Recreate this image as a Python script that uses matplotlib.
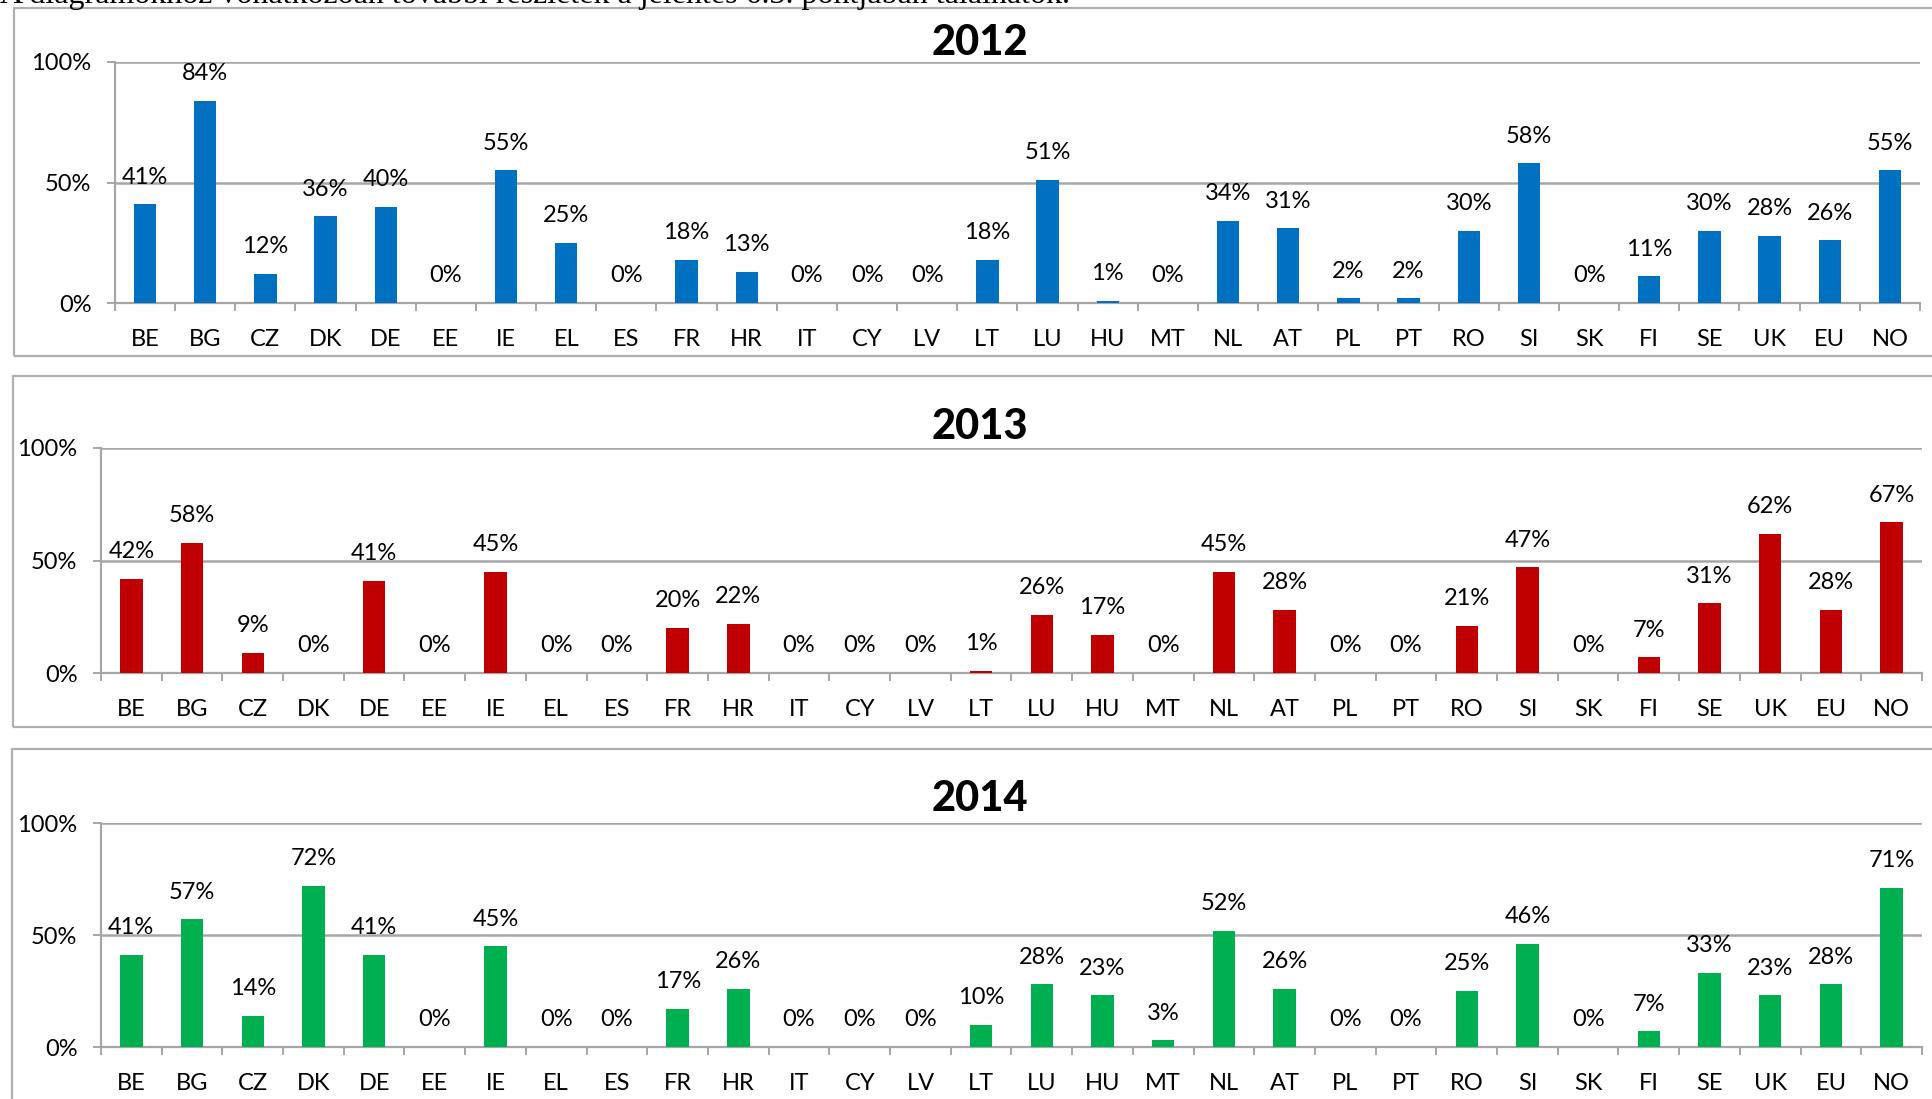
import matplotlib
matplotlib.use('Agg')
import matplotlib.pyplot as plt
from matplotlib.patches import Rectangle
from matplotlib.ticker import FixedLocator, PercentFormatter

countries = ['BE', 'BG', 'CZ', 'DK', 'DE', 'EE', 'IE', 'EL', 'ES', 'FR', 'HR', 'IT', 'CY', 'LV', 'LT',
             'LU', 'HU', 'MT', 'NL', 'AT', 'PL', 'PT', 'RO', 'SI', 'SK', 'FI', 'SE', 'UK', 'EU', 'NO']

values_2012 = [41, 84, 12, 36, 40, 0, 55, 25, 0, 18, 13, 0, 0, 0, 18,
               51, 1, 0, 34, 31, 2, 2, 30, 58, 0, 11, 30, 28, 26, 55]
values_2013 = [42, 58, 9, 0, 41, 0, 45, 0, 0, 20, 22, 0, 0, 0, 1,
               26, 17, 0, 45, 28, 0, 0, 21, 47, 0, 7, 31, 62, 28, 67]
values_2014 = [41, 57, 14, 72, 41, 0, 45, 0, 0, 17, 26, 0, 0, 0, 10,
               28, 23, 3, 52, 26, 0, 0, 25, 46, 0, 7, 33, 23, 28, 71]

years = ['2012', '2013', '2014']
note = 'A diagramokhoz vonatkozóan további részletek a jelentés 6.3. pontjában találhatók.'

W, H = 1933, 1099
GRID = '#A6A6A6'
FONT = 'Lato'

plt.rcParams['font.family'] = [FONT, 'DejaVu Sans']


def fx(px):
  return px / W


def fy(px):
  return 1 - px / H


def draw_panel(fig, values, year, color, box, plot, title_y):
  # outer chart border (Excel chart area)
  bx0, by0, bx1, by1 = box
  fig.patches.append(Rectangle((fx(bx0), fy(by1)), fx(bx1 - bx0), (by1 - by0) / H,
                               transform=fig.transFigure, fill=False,
                               edgecolor='#B0B0B0', linewidth=1.6, zorder=0))
  fig.text(fx(980), fy(title_y), year, ha='center', va='center',
           fontsize=30, fontweight='black', color='black')

  left, top, right, bottom = plot
  ax = fig.add_axes([fx(left), fy(bottom), fx(right - left), (bottom - top) / H])
  x = list(range(len(countries)))
  fracs = [v / 100 for v in values]
  ax.bar(x, fracs, width=0.37, color=color, zorder=3)
  for xi, f, v in zip(x, fracs, values):
    ax.annotate('%d%%' % v, (xi, f), xytext=(0, 12), textcoords='offset points',
                ha='center', va='bottom', fontsize=17, color='black',
                annotation_clip=False)

  ax.set_xlim(-0.5, len(countries) - 0.5)
  ax.set_ylim(0, 1)
  ax.yaxis.set_major_locator(FixedLocator([0, 0.5, 1]))
  ax.yaxis.set_major_formatter(PercentFormatter(1.0, decimals=0))
  ax.grid(axis='y', color=GRID, linewidth=1.8, zorder=0)
  ax.set_xticks(x)
  ax.set_xticklabels(countries)
  ax.set_xticks([i - 0.5 for i in range(len(countries) + 1)], minor=True)
  ax.tick_params(axis='x', which='major', length=0, pad=19, labelsize=17)
  ax.tick_params(axis='x', which='minor', length=6, width=1.4, color=GRID, direction='out')
  ax.tick_params(axis='y', length=6, width=1.4, color=GRID, pad=11, labelsize=17)
  for side in ['top', 'right']:
    ax.spines[side].set_visible(False)
  for side in ['left', 'bottom']:
    ax.spines[side].set_color(GRID)
    ax.spines[side].set_linewidth(1.6)
  ax.set_facecolor('none')
  return ax


fig = plt.figure(figsize=(W / 100, H / 100), dpi=100)
fig.patch.set_facecolor('white')

# note line above the charts, cut off at the top edge as in the source page
fig.text(0.0, fy(3), note, ha='left', va='baseline', fontsize=23,
         family='Liberation Serif', color='black')

draw_panel(fig, values_2012, years[0], '#0070C0', (14, 8, 1960, 356), (115, 62, 1920, 303), 43)
draw_panel(fig, values_2013, years[1], '#C00000', (13, 376, 1960, 727), (101, 448, 1922, 673), 427)
draw_panel(fig, values_2014, years[2], '#00B050', (12, 749, 1960, 1130), (101, 823, 1922, 1047), 799)

fig.savefig('out.png', dpi=100)
